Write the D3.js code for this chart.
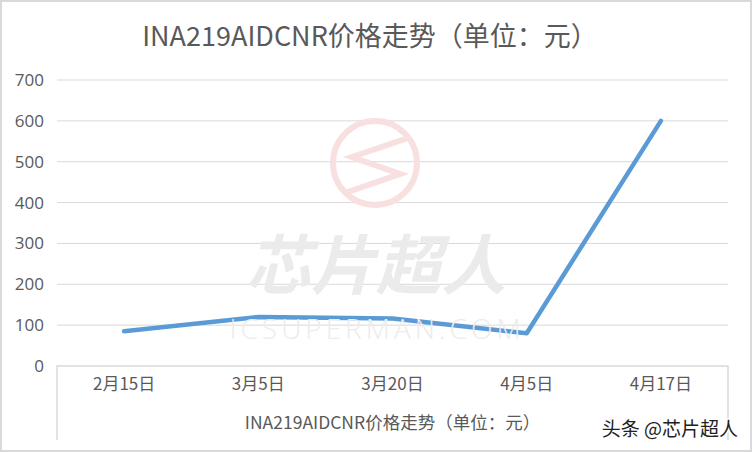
<!DOCTYPE html>
<html>
<head>
<meta charset="utf-8">
<script src="https://cdn.jsdelivr.net/npm/d3@7"></script>
<style>
  body { margin: 0; background: #fff; }
  text { font-family: "Noto Sans CJK SC", "Open Sans", sans-serif; }
</style>
</head>
<body>
<div id="chart"></div>
<script>
// chart data
var categories = ["2月15日", "3月5日", "3月20日", "4月5日", "4月17日"];
var prices = [85, 120, 116, 80, 600];
var yTicks = [0, 100, 200, 300, 400, 500, 600, 700];
var titleText = "INA219AIDCNR价格走势（单位：元）";

var W = 752, H = 452;
var margin = {top: 80, right: 24, bottom: 86, left: 57},
    width = W - margin.left - margin.right,
    height = H - margin.top - margin.bottom;

var root = d3.select("#chart")
    .append("svg")
    .attr("width", W)
    .attr("height", H);

// outer border
root.append("rect")
    .attr("x", 1).attr("y", 1)
    .attr("width", W - 2).attr("height", H - 2)
    .attr("fill", "#fff")
    .attr("stroke", "#d9d9d9")
    .attr("stroke-width", 2);

// title
root.append("text")
    .attr("x", 370).attr("y", 46)
    .attr("text-anchor", "middle")
    .attr("font-size", 27)
    .attr("fill", "#595959")
    .text(titleText);

var svg = root.append("g")
    .attr("transform", "translate(" + margin.left + "," + margin.top + ")");

var x = d3.scaleBand()
    .domain(categories)
    .range([0, width]);

var y = d3.scaleLinear()
    .domain([0, 700])
    .range([height, 0]);

// gridlines
svg.append("g")
    .selectAll("line")
    .data(yTicks.slice(1))
    .enter()
    .append("line")
    .attr("x1", 0).attr("x2", width)
    .attr("y1", function (d) { return y(d); })
    .attr("y2", function (d) { return y(d); })
    .attr("stroke", "#d9d9d9")
    .attr("stroke-width", 1);

// y axis labels
var yAxis = svg.append("g")
    .call(d3.axisLeft(y).tickValues(yTicks).tickSize(0).tickPadding(13));
yAxis.select(".domain").remove();
yAxis.selectAll("text")
    .attr("font-size", 17)
    .attr("fill", "#595959")
    .style("font-family", "'Open Sans', sans-serif");

// category axis box
svg.append("path")
    .attr("d", "M0," + (height + 74) + "V" + height + "H" + width + "V" + (height + 74))
    .attr("fill", "none")
    .attr("stroke", "#d9d9d9")
    .attr("stroke-width", 1.5);

var xAxis = svg.append("g")
    .attr("transform", "translate(0," + height + ")")
    .call(d3.axisBottom(x).tickSize(0).tickPadding(12));
xAxis.select(".domain").remove();
xAxis.selectAll("text")
    .attr("font-size", 17)
    .attr("fill", "#595959");

// axis title
svg.append("text")
    .attr("x", x("3月20日") + x.bandwidth() / 2)
    .attr("y", height + 63)
    .attr("text-anchor", "middle")
    .attr("font-size", 17.5)
    .attr("fill", "#595959")
    .text(titleText);

// watermark
var wm = root.append("g").attr("pointer-events", "none");
wm.append("circle")
    .attr("cx", 375).attr("cy", 163).attr("r", 42)
    .attr("fill", "none")
    .attr("stroke", "#f8e0e0")
    .attr("stroke-width", 6);
wm.append("path")
    .attr("d", "M408,138 L352,157 L400,174 L345,193")
    .attr("fill", "none")
    .attr("stroke", "#f8e0e0")
    .attr("stroke-width", 6)
    .attr("stroke-linejoin", "miter");
wm.append("text")
    .attr("x", 376).attr("y", 289)
    .attr("text-anchor", "middle")
    .attr("font-size", 65)
    .attr("font-weight", "bold")
    .attr("font-style", "italic")
    .attr("fill", "#ebebeb")
    .text("芯片超人");
wm.append("text")
    .attr("x", 377).attr("y", 339)
    .attr("text-anchor", "middle")
    .attr("font-size", 28)
    .attr("font-weight", 300)
    .attr("letter-spacing", 4)
    .attr("fill", "#ececec")
    .style("font-family", "'Open Sans', sans-serif")
    .text("ICSUPERMAN.COM");

// price line
var line = d3.line()
    .x(function (d, i) { return x(categories[i]) + x.bandwidth() / 2; })
    .y(function (d) { return y(d); });

svg.append("path")
    .datum(prices)
    .attr("d", line)
    .attr("fill", "none")
    .attr("stroke", "#5b9bd5")
    .attr("stroke-width", 4.5)
    .attr("stroke-linejoin", "round")
    .attr("stroke-linecap", "round");

// source tag
root.append("text")
    .attr("x", 738).attr("y", 436)
    .attr("text-anchor", "end")
    .attr("font-size", 19)
    .attr("fill", "#222")
    .attr("stroke", "#fff")
    .attr("stroke-width", 3)
    .attr("paint-order", "stroke")
    .text("头条 @芯片超人");
</script>
</body>
</html>
